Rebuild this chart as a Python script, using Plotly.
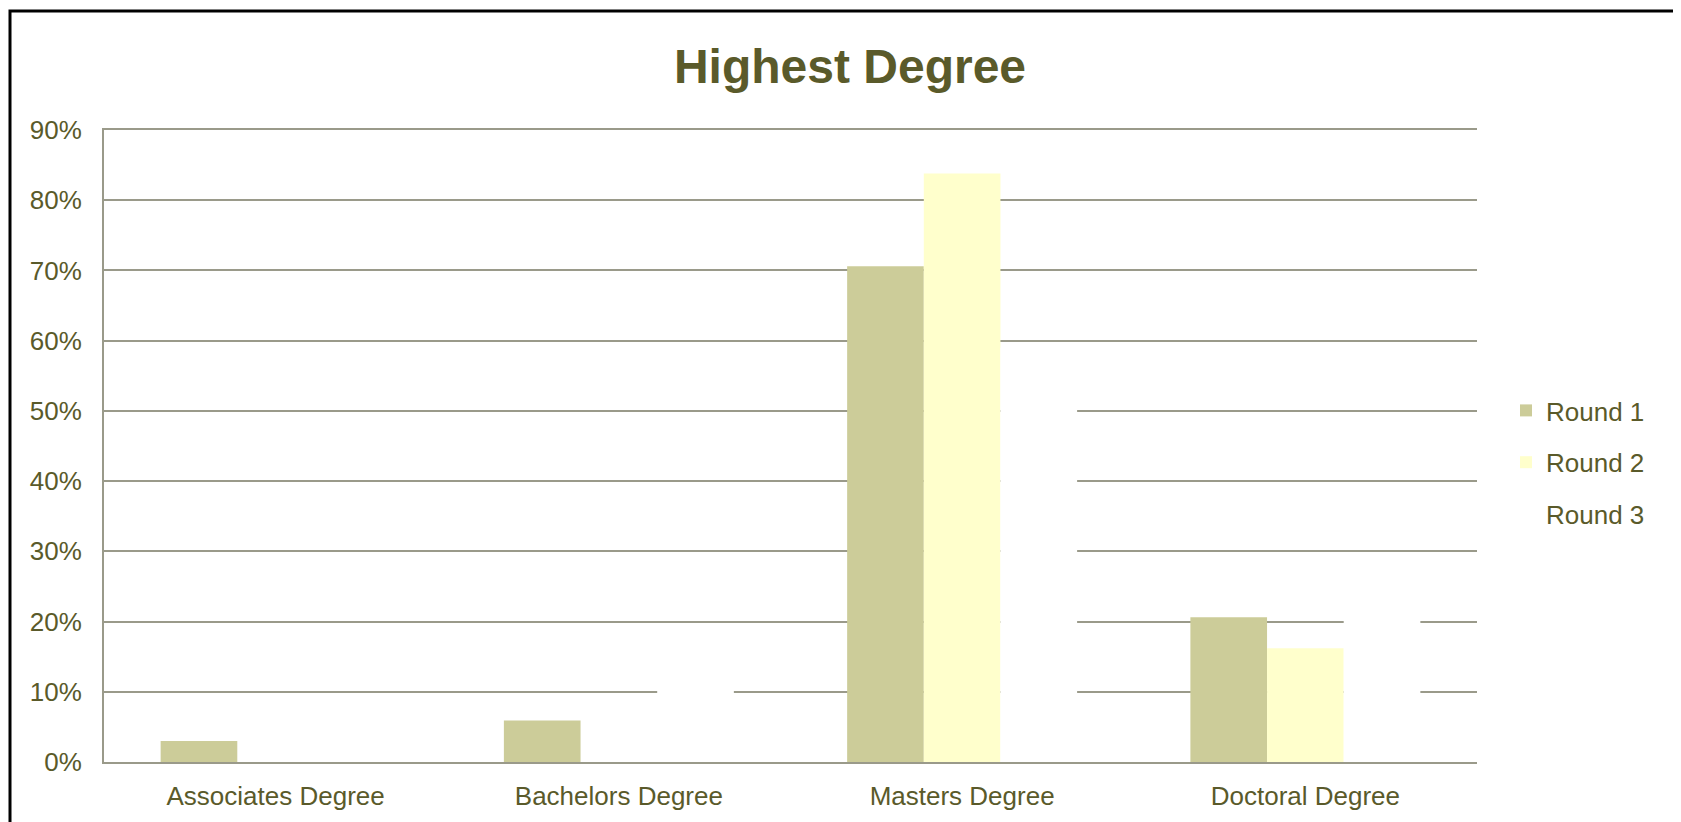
import plotly.graph_objects as go

categories = ["Associates Degree", "Bachelors Degree", "Masters Degree", "Doctoral Degree"]
round1 = [0.030, 0.059, 0.706, 0.206]
round2 = [0.0, 0.0, 0.838, 0.162]
round3 = [0.0, 0.14, 0.59, 0.27]
series_names = ["Round 1", "Round 2", "Round 3"]
colors = ["#cccc99", "#ffffcc", "#ffffff"]
tick_vals = [0, 0.1, 0.2, 0.3, 0.4, 0.5, 0.6, 0.7, 0.8, 0.9]

W, H = 1681, 822
L, R, T, B = 96, 212, 122, 68
pw, ph = W - L - R, H - T - B

fig = go.Figure()
for i, (name, vals, c) in enumerate(zip(series_names, [round1, round2, round3], colors)):
    fig.add_trace(go.Bar(x=categories, y=vals, name=name, legendgroup=f"g{i}",
                         marker=dict(color=c, line=dict(width=0))))

txt = "#5a5a2a"
fig.update_layout(
    width=W, height=H,
    margin=dict(l=L, r=R, t=T, b=B),
    paper_bgcolor="white", plot_bgcolor="white",
    barmode="group", bargap=0.33, bargroupgap=0,
    font=dict(family="Liberation Sans, Arial", color=txt, size=26),
    title=dict(text="<b>Highest Degree</b>", x=842 / W, xanchor="center",
               y=1 - 58 / H, yanchor="middle", font=dict(size=48, color="#5a5a2a")),
    legend=dict(x=(1498 - L) / pw, xanchor="left", y=(H - B - 379) / ph, yanchor="top",
                font=dict(size=26, color=txt), tracegroupgap=15, itemsizing="constant",
                bgcolor="rgba(0,0,0,0)"),
    xaxis=dict(showgrid=False, showline=True, mirror=True, linecolor="#9a9a8a", linewidth=2,
               ticks="", ticklabelstandoff=10, tickfont=dict(size=26, color=txt)),
    yaxis=dict(range=[0, 0.9], tickvals=tick_vals, tickformat=".0%",
               showgrid=True, gridcolor="#9a9a8a", gridwidth=2,
               showline=True, linecolor="#9a9a8a", linewidth=2,
               zeroline=False, ticks="", ticklabelstandoff=15,
               tickfont=dict(size=26, color=txt)),
    shapes=[dict(type="rect", xref="paper", yref="paper",
                 x0=(2 - L) / pw, x1=(W + 20 - L) / pw,
                 y0=-(B + 20) / ph, y1=(H - B - 3) / ph,
                 line=dict(color="black", width=3), fillcolor="rgba(0,0,0,0)")],
)
fig.write_html("out.html")
